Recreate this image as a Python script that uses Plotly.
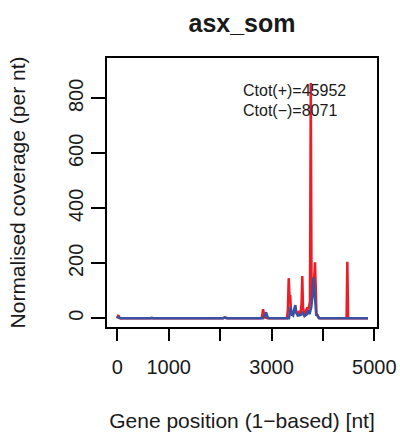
import plotly.graph_objects as go

# ---- data ----
pos_plus = [1, 12, 22, 35, 60, 400, 700, 1400, 2050, 2100, 2150, 2700, 2790, 2815, 2836, 2855, 2880, 2920,
            3300, 3318, 3335, 3350, 3365, 3380, 3410, 3440, 3470, 3500, 3530, 3560, 3585, 3599, 3612,
            3640, 3670, 3690, 3720, 3748, 3764, 3778, 3795, 3822, 3846, 3858, 3875, 3895, 3915, 3950,
            4460, 4475, 4490, 4877]
cov_plus = [0, 6, 12, 4, 0, 0, 0, 0, 0, 3, 0, 0, 0, 5, 33, 12, 3, 0,
            0, 30, 146, 78, 79, 22, 10, 28, 30, 15, 22, 10, 55, 154, 40,
            12, 30, 36, 35, 60, 856, 150, 80, 120, 204, 60, 15, 12, 3, 0,
            0, 206, 0, 0]

pos_minus = [1, 15, 30, 60, 640, 670, 700, 2060, 2090, 2120, 2840, 2870, 2895, 2920, 2950,
             3340, 3358, 3372, 3392, 3420, 3450, 3465, 3482, 3510, 3560, 3600, 3640, 3690, 3712,
             3740, 3775, 3798, 3817, 3832, 3848, 3870, 3895, 3925, 4877]
cov_minus = [0, 7, 2, 0, 0, 2, 0, 0, 3, 0, 0, 10, 22, 6, 0,
             0, 18, 42, 14, 10, 40, 48, 20, 10, 12, 20, 8, 15, 30,
             15, 42, 85, 149, 110, 40, 12, 10, 0, 0]

x_ticks = [0, 1000, 2000, 3000, 4000, 5000]
x_tick_labels = ["0", "1000", "", "3000", "", "5000"]
y_ticks = [0, 200, 400, 600, 800]
ctot_plus = 45952
ctot_minus = 8071

RED = "#EE1C25"
BLUE = "#3953A4"
TXT = "#1a1a1a"
FONT = "Liberation Sans, Arial, sans-serif"

fig = go.Figure()
fig.add_trace(go.Scatter(x=pos_plus, y=cov_plus, mode="lines",
                         line=dict(color=RED, width=2.5), hoverinfo="skip"))
fig.add_trace(go.Scatter(x=pos_minus, y=cov_minus, mode="lines",
                         line=dict(color=BLUE, width=2.5), hoverinfo="skip"))

fig.update_layout(
    width=400, height=434,
    margin=dict(l=107, r=23, t=58, b=107),
    plot_bgcolor="white", paper_bgcolor="white",
    showlegend=False,
    font=dict(family=FONT, size=20, color=TXT),
    title=dict(text="<b>asx_som</b>", x=242 / 400, xanchor="center",
               xref="container", yref="container", y=1 - 23 / 434, yanchor="middle",
               font=dict(family=FONT, size=25, color=TXT), automargin=False),
)
fig.update_xaxes(
    range=[-200, 5052], tickvals=x_ticks, ticktext=x_tick_labels, automargin=False,
    ticks="outside", ticklen=12, tickwidth=1.5, tickcolor="black",
    ticklabelstandoff=9,
    showline=True, mirror=True, linecolor="black", linewidth=1.5,
    showgrid=False, zeroline=False,
    tickfont=dict(size=20, color=TXT, family=FONT),
    title=dict(text="Gene position (1−based) [nt]", standoff=37,
               font=dict(size=21, color=TXT, family=FONT)),
)
fig.update_yaxes(
    range=[-31.7, 947], tickvals=y_ticks, tickangle=-90, automargin=False,
    ticks="outside", ticklen=14, tickwidth=1.5, tickcolor="black",
    showline=True, mirror=True, linecolor="black", linewidth=1.5,
    showgrid=False, zeroline=False,
    tickfont=dict(size=20, color=TXT, family=FONT),
    title=dict(text="Normalised coverage (per nt)", standoff=34,
               font=dict(size=21, color=TXT, family=FONT)),
)

fig.add_annotation(text=f"Ctot(+)={ctot_plus}", xref="paper", yref="paper",
                   x=0.495, y=0.881, xanchor="left", yanchor="middle", showarrow=False,
                   font=dict(size=16, color=TXT, family=FONT))
fig.add_annotation(text=f"Ctot(−)={ctot_minus}", xref="paper", yref="paper",
                   x=0.495, y=0.803, xanchor="left", yanchor="middle", showarrow=False,
                   font=dict(size=16, color=TXT, family=FONT))

fig.write_html("out.html", config={"displayModeBar": False},
               post_script="document.body.style.margin='0';document.body.style.overflow='hidden';")
